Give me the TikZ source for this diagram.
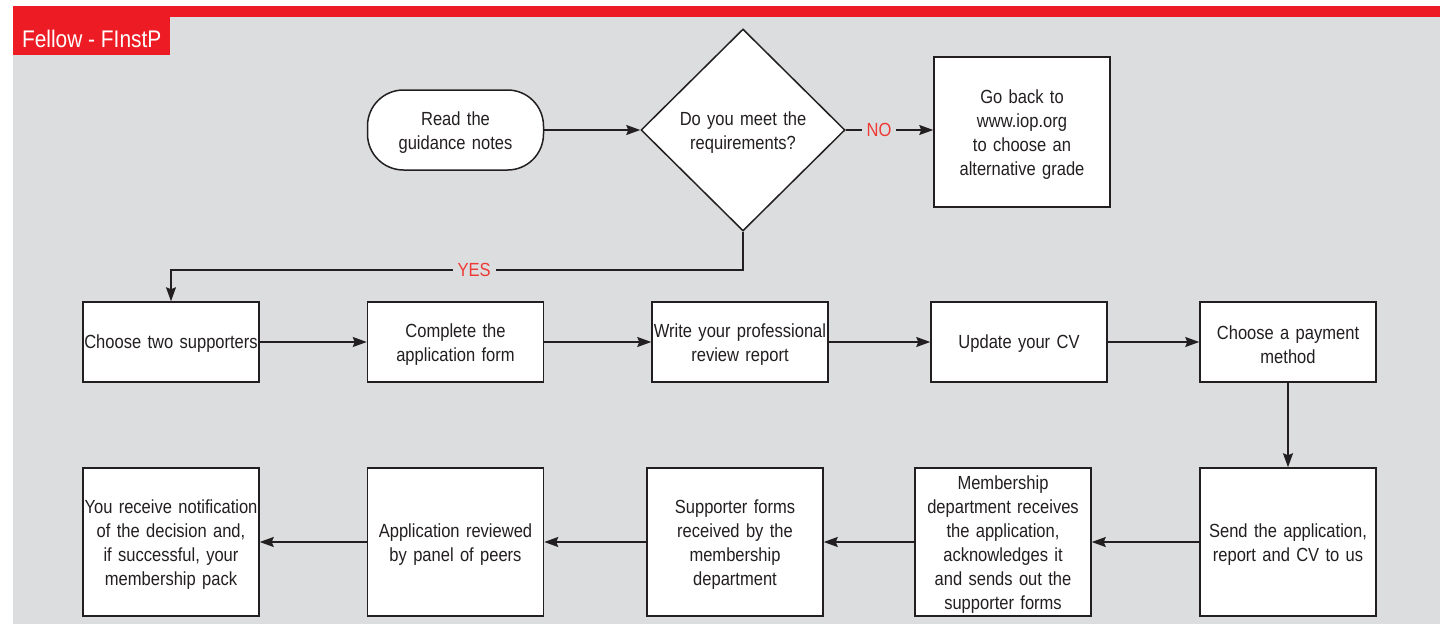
\documentclass[tikz,border=0pt]{standalone}
\usepackage{fontspec}
\setmainfont{Liberation Sans}[FakeStretch=0.87,WordSpace=0.75]
\newfontfamily\tabfont{Liberation Sans}[FakeStretch=0.87]
\usetikzlibrary{arrows.meta,shapes.geometric}
\definecolor{Ink}{HTML}{231F20}
\definecolor{Brand}{HTML}{ED1C24}
\definecolor{Panel}{HTML}{DCDDDF}
\definecolor{Alert}{HTML}{EE3A35}
\tikzset{
  stepbox/.style={draw=Ink,line width=1.5pt,fill=white,text=Ink,align=center,minimum width=176pt,minimum height=80pt,text width=174pt,inner xsep=1pt,execute at end node={\par\vspace{-6pt}}},
  tallbox/.style={stepbox,minimum height=148pt},
  startbox/.style={stepbox,rounded corners=36pt},
  decision/.style={diamond,draw=Ink,line width=1.5pt,fill=white,text=Ink,align=center,minimum width=204pt,minimum height=202pt,inner sep=0pt,text width=150pt,execute at end node={\par\vspace{-6pt}}},
  arrow/.style={-{Stealth[length=14pt,width=10pt,inset=2pt]},line width=1.5pt,draw=Ink},
  answer/.style={fill=Panel,text=Alert,inner xsep=5pt,inner ysep=1pt},
  tab/.style={fill=Brand,text=white,minimum width=157pt,minimum height=38pt,inner xsep=0pt,text height=22pt,text depth=0pt,font=\tabfont\fontsize{24pt}{28pt}\selectfont}
}
\begin{document}
\begin{tikzpicture}[x=1pt,y=-1pt,font=\fontsize{19pt}{24pt}\selectfont]
  \useasboundingbox (0,0) rectangle (1440,624);
  % header band and panel
  \fill[Brand] (13,6) rectangle (1440,17);
  \fill[Panel] (13,17) rectangle (1440,624);
  \node[tab,anchor=north west] (tab) at (13,17) {Fellow - FInstP};
  % top row
  \node[startbox] (read) at (455.5,130) {Read the\\guidance notes};
  \node[decision] (meet) at (743,130) {Do you meet the\\requirements?};
  \node[stepbox,minimum height=150pt] (goback) at (1022,132) {Go back to\\www.iop.org\\to choose an\\alternative grade};
  \coordinate (yesturn) at (743,270);
  % first row of steps
  \node[stepbox] (supp) at (171,342) {Choose two supporters};
  \node[stepbox] (form) at (455.5,342) {Complete the\\application form};
  \node[stepbox] (report) at (740,342) {Write your professional\\review report};
  \node[stepbox] (cv) at (1019,342) {Update your CV};
  \node[stepbox] (pay) at (1288,342) {Choose a payment\\method};
  % second row of steps
  \node[tallbox] (send) at (1288,542) {Send the application,\\report and CV to us};
  \node[tallbox] (memb) at (1003,542) {Membership\\department receives\\the application,\\acknowledges it\\and sends out the\\supporter forms};
  \node[tallbox] (forms) at (735,542) {Supporter forms\\received by the\\membership\\department};
  \node[tallbox] (review) at (455.5,542) {Application reviewed\\by panel of peers};
  \node[tallbox] (notify) at (171,542) {You receive notification\\of the decision and,\\if successful, your\\membership pack};
  % connectors
  \draw[arrow] (read)--(meet);
  \draw[arrow] (meet.east)--node[answer,pos=0.38]{NO}(goback.west |- meet.east);
  \draw[arrow] (meet.south)--(yesturn)-|node[answer,pos=0.235]{YES}(supp.north);
  \draw[arrow] (supp)--(form); \draw[arrow] (form)--(report); \draw[arrow] (report)--(cv); \draw[arrow] (cv)--(pay);
  \draw[arrow] (pay)--(send);
  \draw[arrow] (send)--(memb); \draw[arrow] (memb)--(forms); \draw[arrow] (forms)--(review); \draw[arrow] (review)--(notify);
\end{tikzpicture}
\end{document}
